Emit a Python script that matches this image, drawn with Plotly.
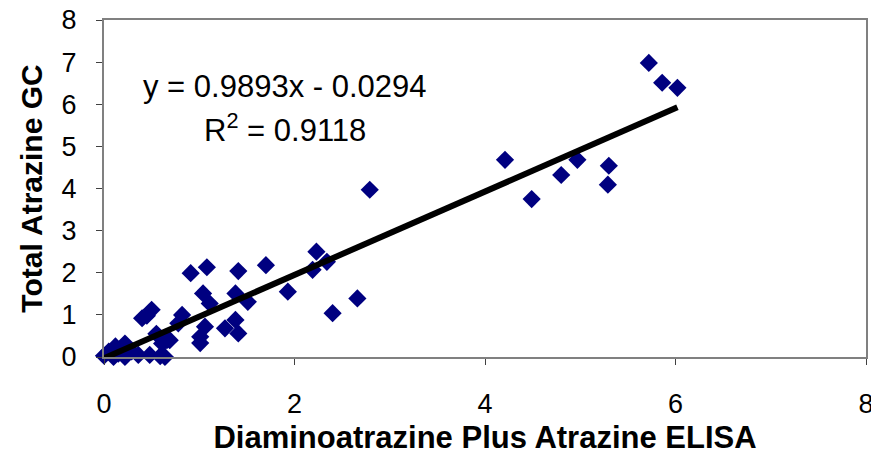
import plotly.graph_objects as go

# ELISA (x) vs GC (y) values
x_elisa = [5.72, 5.86, 6.02, 4.21, 4.97, 4.49, 4.80, 5.30, 5.29, 2.79,
           2.66, 2.40, 1.93, 2.23, 2.34, 2.19, 1.70, 1.41, 1.08, 0.91,
           1.04, 1.11, 1.38, 1.51, 0.82, 0.78, 1.06, 1.01, 1.01, 1.38,
           1.27, 1.41, 0.69,
           0.40, 0.50, 0.45, 0.61, 0.66, 0.55, 0.05, 0.12, 0.22, 0.29,
           0.00, 0.36, 0.48, 0.64, 0.59, 0.22, 0.10, 0.15]
y_gc = [6.98, 6.51, 6.39, 4.68, 4.68, 3.75, 4.32, 4.54, 4.09, 3.97,
        1.39, 1.04, 1.55, 2.50, 2.26, 2.07, 2.18, 2.04, 2.13, 1.99,
        1.51, 1.27, 1.51, 1.31, 1.00, 0.80, 0.72, 0.48, 0.33, 0.88,
        0.68, 0.56, 0.40,
        0.92, 1.12, 0.98, 0.32, 0.40, 0.55, 0.13, 0.25, 0.32, 0.13,
        0.03, 0.05, 0.05, 0.00, 0.02, 0.00, 0.00, 0.08]

slope = 0.9893
intercept = -0.0294
r_squared = 0.9118

x_ticks = [0, 2, 4, 6, 8]
y_ticks = [0, 1, 2, 3, 4, 5, 6, 7, 8]

x_fit = [min(x_elisa), max(x_elisa)]
y_fit = [slope * v + intercept for v in x_fit]

fig = go.Figure()
fig.add_trace(go.Scatter(
    x=x_elisa, y=y_gc, mode="markers",
    marker=dict(symbol="diamond", size=14, color="#000080",
                line=dict(width=0)),
    showlegend=False, cliponaxis=False))
fig.add_trace(go.Scatter(
    x=x_fit, y=y_fit, mode="lines",
    line=dict(color="black", width=6),
    showlegend=False, cliponaxis=False))

font_main = "Liberation Sans, Arial, sans-serif"

fig.add_annotation(x=1.9, y=6.41, xref="x", yref="y",
                   text=f"y = {slope}x - {abs(intercept)}",
                   showarrow=False, font=dict(family=font_main, size=31, color="black"))
fig.add_annotation(x=1.9, y=5.44, xref="x", yref="y",
                   text=f"R<sup>2</sup> = {r_squared}",
                   showarrow=False, font=dict(family=font_main, size=31, color="black"))

fig.update_layout(
    width=871, height=455,
    margin=dict(l=104, r=5, t=20, b=98),
    paper_bgcolor="white", plot_bgcolor="white",
    font=dict(family=font_main, color="black"),
    xaxis=dict(range=[0, 8], tickvals=x_ticks, ticks="outside", ticklen=6,
               tickcolor="#404040", tickwidth=1, automargin=False,
               showline=True, linecolor="#808080", linewidth=2, mirror=True,
               showgrid=False, zeroline=False, ticklabeloverflow="allow",
               tickfont=dict(size=27), ticklabelstandoff=16,
               title=dict(text="<b>Diaminoatrazine Plus Atrazine ELISA</b>",
                          font=dict(size=31), standoff=10)),
    yaxis=dict(range=[0, 8], tickvals=y_ticks, ticks="outside", ticklen=6,
               tickcolor="#404040", tickwidth=1, automargin=False,
               showline=True, linecolor="#808080", linewidth=2, mirror=True,
               showgrid=False, zeroline=False, ticklabeloverflow="allow",
               tickfont=dict(size=27), ticklabelstandoff=14,
               title=dict(text="<b>Total Atrazine GC</b>",
                          font=dict(size=30), standoff=10)),
)

fig.write_html("out.html")
